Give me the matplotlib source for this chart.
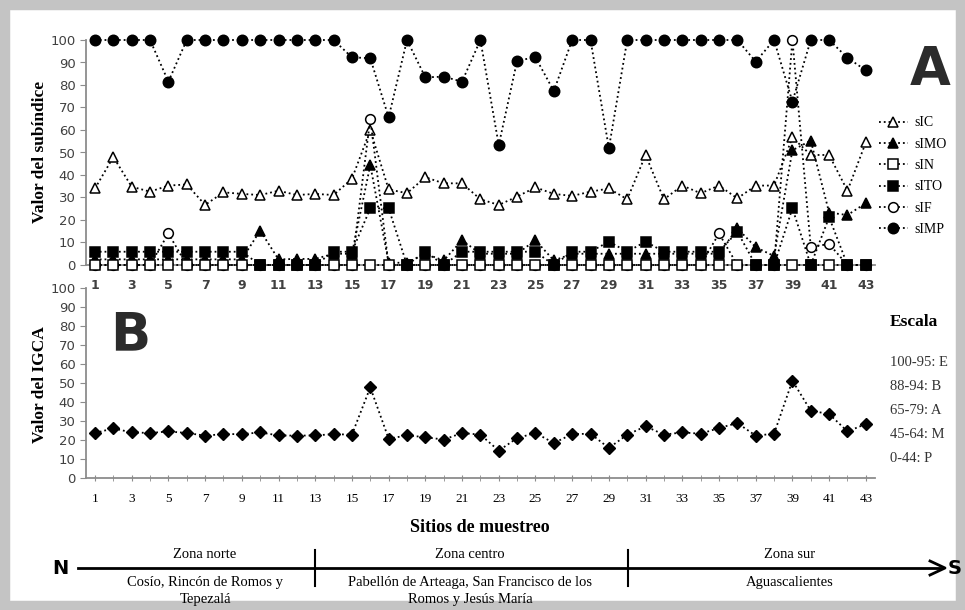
import matplotlib
matplotlib.use("Agg")
import matplotlib.pyplot as plt
from matplotlib.patches import Rectangle
import numpy as np

sites = list(range(1, 44))
tick_labels = [str(s) for s in sites if s % 2 == 1]

sIC = [34, 48, 34.8, 32.6, 35.3, 35.8, 26.7, 32.3, 31.6, 31.1, 33, 31.1, 31.6, 31.1, 38.3,
       60, 33.6, 31.9, 39, 36.3, 36.3, 29.2, 26.7, 30.4, 34.5, 31.6, 30.7, 32.6, 34, 29.2,
       48.9, 29.2, 35.3, 31.9, 35.3, 29.6, 35.3, 35.3, 56.7, 48.9, 48.9, 33, 54.5]
sIMO = [2.5, 2.5, 2.5, 2.5, 2.5, 2.5, 2.5, 2.5, 2.5, 15.3, 2.5, 2.7, 2.7, 5, 5,
        44.4, 1, 1, 5, 2, 11, 5, 5, 5, 11, 2, 5, 5, 5, 5,
        5, 5, 5, 5, 5, 16.3, 7.9, 4, 51, 55.3, 23.3, 22.2, 27.5]
sIN = [0] * 43
sITO = [5.9, 5.9, 5.9, 5.9, 5.9, 5.9, 5.9, 5.9, 5.9, 0, 0, 0, 0, 5.9, 5.9,
        25.2, 25.2, 0, 5.9, 0, 5.9, 5.9, 5.9, 5.9, 5.9, 0, 5.9, 5.9, 10.4, 5.9,
        10.4, 5.9, 5.9, 5.9, 5.9, 14.8, 0, 0, 25.2, 0, 21.2, 0, 0]
sIF = [0, 0, 0, 0, 14, 0, 0, 0, 0, 0, 0, 0, 0, 0, 0,
       65, 0, 0, 0, 0, 0, 0, 0, 0, 0, 0, 0, 0, 0, 0,
       0, 0, 0, 0, 14, 0, 0, 0, 100, 8.1, 9.3, 0, 0]
sIMP = [100, 100, 100, 100, 81.5, 100, 100, 100, 100, 100, 100, 100, 100, 100, 92.3,
        91.9, 65.6, 100, 83.4, 83.7, 81.5, 100, 53.3, 90.8, 92.3, 77.3, 100, 100, 51.9, 100,
        100, 100, 100, 100, 100, 100, 90.4, 100, 72.6, 100, 100, 92.1, 86.5]
IGCA = [23.7, 26.1, 24, 23.7, 24.5, 23.7, 22.3, 23.1, 23.1, 24, 22.4, 22.3, 22.4, 23.1, 22.8,
        47.7, 20.7, 22.4, 21.5, 20.2, 23.7, 22.8, 14.4, 21, 23.7, 18.4, 23.1, 23.3, 15.8, 22.8,
        27.2, 22.8, 24, 23.3, 26.3, 28.9, 22.3, 23.3, 51.2, 35.4, 33.7, 24.5, 28.4]

escala = ["100-95: E", "88-94: B", "65-79: A", "45-64: M", "0-44: P"]
zonas = ["Zona norte", "Zona centro", "Zona sur"]
zona_txt = ["Cosío, Rincón de Romos y\nTepezalá",
            "Pabellón de Arteaga, San Francisco de los\nRomos y Jesús María",
            "Aguascalientes"]

serif = "Liberation Serif"
W, H = 965, 610
fig = plt.figure(figsize=(9.65, 6.1), dpi=100)
fig.patches.append(Rectangle((0, 0), 1, 1, transform=fig.transFigure, fill=False,
                             ec="#c4c4c4", lw=14))

def fx(px):
    return px / W

def fy(py):
    return 1 - py / H

left, right = 85.8, 875
axA = fig.add_axes([fx(left), fy(265), fx(right - left), fy(40) - fy(265)])
axB = fig.add_axes([fx(left), fy(478), fx(right - left), fy(288) - fy(478)])

series = [
    ("sIC", sIC, "^", "white", 7.5),
    ("sIMO", sIMO, "^", "black", 7.5),
    ("sIF", sIF, "o", "white", 7),
    ("sIN", sIN, "s", "white", 6.5),
    ("sITO", sITO, "s", "black", 6.5),
    ("sIMP", sIMP, "o", "black", 7.5),
]
handles = {}
for name, vals, mk, fc, ms in series:
    h, = axA.plot(sites, vals, ls=":", lw=1.3, color="black", marker=mk, mfc=fc,
                  mec="black", mew=1.1, ms=ms, clip_on=False, label=name, zorder=3)
    handles[name] = h

axB.plot(sites, IGCA, ls=":", lw=1.3, color="black", marker="D", mfc="black",
         mec="black", ms=6, clip_on=False, zorder=3)

for ax in (axA, axB):
    ax.set_xlim(0.5, 43.5)
    ax.set_ylim(0, 100)
    ax.set_yticks(range(0, 101, 10))
    ax.set_xticks(sites, minor=True)
    ax.set_xticks(sites[::2])
    for s in ("top", "right"):
        ax.spines[s].set_visible(False)
    for s in ("left", "bottom"):
        ax.spines[s].set_color("#8c8c8c")
        ax.spines[s].set_linewidth(1.3)
    ax.tick_params(axis="y", colors="#8c8c8c", labelcolor="#404040", labelsize=9.5,
                   length=4, direction="out")
    ax.tick_params(axis="x", which="both", colors="#8c8c8c", length=4, direction="inout")
    ax.set_facecolor("none")

axA.set_xticklabels(tick_labels, fontsize=9, color="#404040", fontweight="bold")
axA.tick_params(axis="x", pad=8)
axB.set_xticklabels(tick_labels, fontsize=9.5, color="black", family=serif)
axB.tick_params(axis="x", pad=9)

fig.text(fx(40), fy(152), "Valor del subíndice", rotation=90, ha="center", va="center",
         family=serif, fontweight="bold", fontsize=12.5)
fig.text(fx(40), fy(385), "Valor del IGCA", rotation=90, ha="center", va="center",
         family=serif, fontweight="bold", fontsize=12.5)

fig.text(fx(930), fy(70), "A", ha="center", va="center", fontsize=38, fontweight="bold",
         color="#2b2b2b")
fig.text(fx(130), fy(335), "B", ha="center", va="center", fontsize=38, fontweight="bold",
         color="#2b2b2b")

order = ["sIC", "sIMO", "sIN", "sITO", "sIF", "sIMP"]
fig.legend([handles[n] for n in order], order, loc="upper left",
           bbox_to_anchor=(fx(866), fy(104)), frameon=False, handlelength=2.1,
           handletextpad=0.5, labelspacing=0.6, prop={"family": serif, "size": 10})

fig.text(fx(890), fy(322), "Escala", family=serif, fontweight="bold", fontsize=12.5,
         va="center")
for i, t in enumerate(escala):
    fig.text(fx(890), fy(362 + i * 24), t, family=serif, fontsize=10.5, va="center",
             color="#333333")

fig.text(fx(480), fy(527), "Sitios de muestreo", family=serif, fontweight="bold",
         fontsize=13, ha="center", va="center")

# N -> S line with zones
fig.add_artist(plt.Line2D([fx(78), fx(940)], [fy(568), fy(568)], color="black", lw=2))
fig.add_artist(plt.Line2D([fx(930), fx(945), fx(930)], [fy(561), fy(568), fy(575)],
                          color="black", lw=2))
fig.text(fx(60), fy(568), "N", fontsize=14, fontweight="bold", ha="center", va="center")
fig.text(fx(955), fy(568), "S", fontsize=14, fontweight="bold", ha="center", va="center")
for xd in (315, 628):
    fig.add_artist(plt.Line2D([fx(xd), fx(xd)], [fy(550), fy(586)], color="black", lw=1.5))
for xc, z, t in zip((205, 470, 790), zonas, zona_txt):
    fig.text(fx(xc), fy(555), z, family=serif, fontsize=10.5, ha="center", va="center")
    fig.text(fx(xc), fy(576), t, family=serif, fontsize=10.5, ha="center", va="top",
             linespacing=1.4)

fig.savefig("out.png", dpi=100)
